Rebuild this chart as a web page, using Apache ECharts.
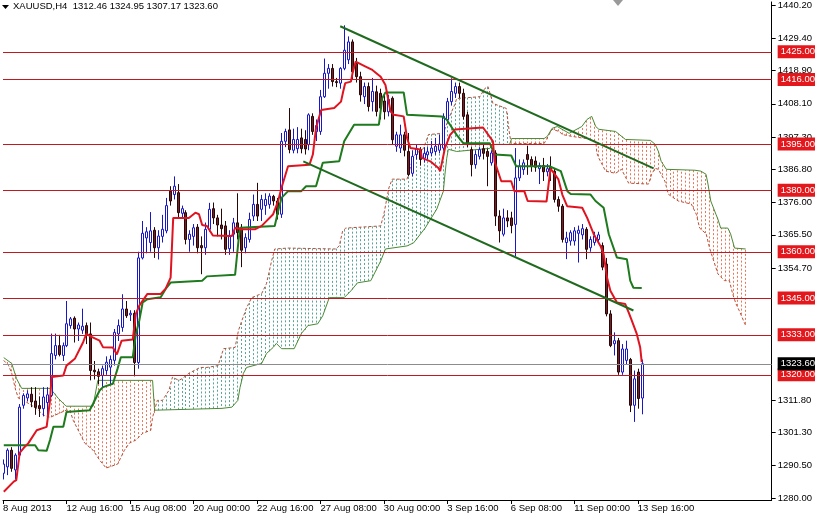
<!DOCTYPE html>
<html><head><meta charset="utf-8">
<script src="https://cdn.jsdelivr.net/npm/echarts@6/dist/echarts.min.js"></script>
<style>html,body{margin:0;padding:0;background:#fff}#c{width:815px;height:517px}</style>
</head><body><div id="c"></div><script>
// ---- candle data (bar index = array position) ----
const opens = [1288,1290.1,1295.5,1289.1,1293.9,1310.1,1312.5,1313.7,1311.5,1310,1309,1311,1313.3,1326.3,1329.5,1326.3,1329.5,1336,1338.4,1334.9,
1334.5,1336,1333.3,1321.5,1321,1319.8,1321.4,1322.5,1324.7,1333.3,1335.4,1341.4,1339.5,1340,1324,1358,1364.5,1363,1367,1361.3,
1365,1366.8,1379.7,1378.6,1379.2,1372.5,1372.7,1364,1365,1368,1362,1361.3,1367.3,1374,1371,1368.7,1368.4,1361,1365.7,1369.4,
1367.5,1361.3,1364,1371.6,1375.4,1373.8,1375,1375.4,1378,1376.5,1372.2,1395.9,1399.6,1393,1393.5,1397,1396.5,1394.8,1404,1399,
1399.1,1410.4,1418,1419.6,1415.3,1414.8,1419.6,1422.4,1428.2,1421.2,1416.9,1410.4,1413.7,1408.8,1412,1411.5,1409,1405.5,1409.9,1394.3,
1393.7,1398,1392.6,1385.5,1391.6,1393.2,1390.4,1391.5,1392.1,1392.6,1393,1393.7,1402.9,1408.8,1411.5,1413.7,1411.5,1404.5,1393.2,1388.3,
1391,1393.5,1392.6,1388.9,1392.1,1371.6,1365.7,1371,1371,1368.9,1384,1386.7,1391.6,1390,1389.5,1387,1388,1386,1387.5,1386.2,
1377,1374.8,1363,1363.5,1363.5,1366,1365.5,1367.3,1361.3,1363,1364,1362,1356,1339.8,1330.1,1331.1,1320.9,1324.7,1325,1310.1,
1320.9,1312.46];
const highs = [1292.5,1296.1,1296.5,1294.5,1310.5,1314,1315,1316,1316,1313,1316,1316,1333.4,1333.4,1333,1330.5,1344,1338.8,1339,1337,
1341.5,1337,1337,1324.5,1322,1323,1326,1326.3,1334.9,1338,1346.2,1344,1341,1341,1360,1370,1368,1372.9,1368,1367,
1372,1377.5,1381.3,1384.5,1382,1375,1373.5,1367,1369,1369,1365,1369.5,1375.9,1376,1372,1374,1370,1367,1371,1379,
1369,1366,1372.7,1378.6,1382.4,1378.5,1379,1379,1378.5,1377.5,1398.6,1400,1406.7,1400,1400.5,1400,1399.5,1405,1405,1403,
1412.6,1422.8,1421,1421,1416.5,1420,1433.6,1430,1429,1423,1418.5,1415,1415,1416.5,1414,1413,1411,1411,1410.5,1399,
1401.3,1399,1398.6,1393,1395,1394,1394,1394,1396,1397,1398,1405,1410,1416.4,1415,1415,1413,1405.5,1394,1393,
1394,1395,1393.5,1393,1393,1373.5,1374,1373.5,1373,1393.7,1390,1390,1394.5,1391,1391,1389,1390.5,1388.5,1391,1387,
1378,1375.5,1366.5,1367,1368,1368.5,1369,1368,1365,1366.5,1366.5,1363,1358,1341,1333.8,1332,1330,1331.1,1325.5,1321.4,
1322,1324.95];
const lows = [1286,1287.4,1288.5,1286,1293,1309,1311.5,1309.5,1307,1306.3,1306.5,1307,1312.8,1325,1326,1324.5,1329,1335,1330.5,1331,
1333.3,1330,1318.2,1318.5,1317,1316,1320,1317,1323,1331,1334,1338.5,1337.5,1319.5,1322,1357.5,1359.5,1360,1358,1357.5,
1363,1366,1375,1377,1371,1371,1362.4,1360,1362,1359.5,1352.7,1359,1366.5,1369,1365,1364,1359,1359,1360,1364,
1355,1359.5,1363,1370,1370,1370,1372,1374,1375,1370.5,1371,1394,1392,1392,1392,1392,1391.6,1393,1398,1396,
1398,1410,1413,1413.7,1413.5,1413,1419,1421,1415.9,1415,1408.8,1408,1405.6,1405.6,1404,1403,1403,1404,1394.8,1392.5,
1392.1,1391,1384.5,1384.5,1390,1388,1389,1390,1391,1391.5,1392,1393,1402,1407.5,1410,1410,1403,1394,1384.5,1387,
1390,1390,1381.3,1388,1368.4,1363,1365,1368,1366,1358.6,1383,1385,1385,1386,1386,1382,1383,1384.5,1383,1376,
1373,1363,1357.6,1362,1362,1356.5,1364,1357.6,1360,1362,1363,1354,1339,1329,1326.3,1320,1320,1323.5,1307.9,1304.7,
1309,1307.17];
const closes = [1291,1295.5,1289.6,1293.9,1309.5,1313.3,1313.8,1311.2,1309.4,1309,1312.8,1313.5,1326.9,1329.5,1326.6,1329.5,1336.6,1338.2,1334.9,1336.2,
1335.8,1332.8,1321.4,1321,1319.5,1322,1324.1,1325,1333.8,1336,1341.4,1339.2,1340,1324,1358,1366,1366.5,1366.8,1361.3,1365.1,
1367.3,1375,1376.5,1381.3,1372.7,1374,1364,1365.7,1367.8,1361.3,1361.3,1367.3,1373.8,1371,1368.7,1367.5,1360.8,1365,1369.4,1366.2,
1360.5,1364.6,1370.5,1375.4,1371.6,1377,1377,1378.1,1376.5,1372.2,1395.9,1399.1,1393.2,1396.5,1396.5,1393.5,1393.4,1404.5,1399.1,1401,
1410.4,1418,1419.6,1415.3,1415,1419.6,1425.5,1428.2,1418.5,1416.9,1411,1413.7,1407.2,1412.1,1405.6,1406.7,1405.5,1409.5,1396.4,1398,
1398,1393,1385.1,1391,1393.6,1390,1392,1392.5,1393.7,1394.3,1395,1404,1408.8,1412.1,1413.7,1411.5,1404,1394.8,1388.3,1391.6,
1393.2,1392,1391,1392.1,1371.6,1366.8,1371,1370,1368.5,1384,1387.8,1388.9,1390,1387.8,1387.5,1388,1386,1387,1386.5,1377,
1374.8,1364,1364.5,1366.2,1366.8,1367,1367.5,1360.8,1364,1365.1,1365.5,1355,1339.8,1329.5,1331.1,1320.9,1328.4,1328.4,1310.1,1318.7,
1312.3,1323.6];

// ---- indicator lines, [bar, price] ----
const tenkan = [[0.2,1282.0],[2.7,1285.3],[3.35,1285.8],[4.2,1294.6],[5.2,1296.2],[6.4,1297.8],[8.5,1302.0],[11,1303.1],[11.85,1311.7],[12.25,1319.3],
[15.2,1319.8],[16,1323.0],[18.1,1325.2],[20.2,1330.6],[21,1333.3],[22.2,1332.4],[24.35,1331.1],[25.2,1329.0],[27.7,1328.9],[28.7,1326.6],
[29.9,1331.1],[32.7,1331.5],[33.5,1339.8],[34.35,1342.5],[36.4,1346.3],[39.75,1346.3],[41,1348.0],[42.25,1351.6],[42.9,1371.0],[46.85,1371.0],
[48.5,1372.7],[49.4,1372.2],[50.2,1368.7],[51.4,1368.4],[52.9,1365.3],[57.7,1365.1],[58.5,1367.8],[60.2,1367.3],[63.5,1367.3],[65.2,1368.4],
[68.1,1372.2],[69.35,1376.5],[70.2,1380.8],[71.85,1387.8],[77.25,1388.3],[78.1,1391.6],[78.9,1400.2],[80.2,1406.1],[83.5,1406.7],[85.2,1408.8],
[85.75,1412.1],[86.25,1414.8],[87.7,1415.3],[88.1,1418.0],[88.9,1421.8],[91.4,1420.2],[93.1,1419.1],[95.2,1416.9],[96.4,1414.2],[97.7,1405.6],
[98.5,1404.5],[101,1404.0],[101.85,1396.9],[102.7,1393.7],[105.2,1393.2],[105.6,1390.5],[107.7,1389.4],[109.75,1387.2],[110.2,1386.2],[111.4,1393.7],
[112.7,1398.0],[113.9,1399.7],[121,1400.4],[123.5,1395.9],[123.9,1389.4],[125.6,1382.9],[128.1,1382.9],[128.9,1379.7],[131.4,1379.7],[132.25,1376.5],
[137,1376.3],[138,1387.0],[139,1385.3],[140,1383.5],[141,1378.5],[142.2,1374.8],[146,1374.3],[147.25,1371.0],[148.9,1365.7],[150.6,1361.9],
[151.4,1359.2],[152.25,1351.6],[153.1,1347.3],[154.75,1343.5],[156.85,1343.0],[157.7,1340.3],[158.5,1337.6],[159.75,1333.3],[160.6,1329.0],[161,1324.1]];
const kijun = [[0.2,1297.1],[8.1,1297.1],[8.9,1295.5],[11,1295.3],[11.85,1298.8],[12.7,1303.1],[15.2,1303.1],[16,1307.9],[21.85,1308.5],[22.7,1310.6],
[24.35,1314.9],[25.2,1316.0],[27.7,1317.1],[28.9,1322.1],[29.7,1325.7],[32.7,1325.7],[33.5,1333.3],[34.35,1337.6],[35.2,1343.5],[36.4,1344.6],
[39.75,1345.2],[41,1347.9],[42.25,1350.0],[50.2,1350.6],[51.4,1352.0],[58.5,1352.5],[59.35,1363.5],[59.75,1367.8],[68.5,1368.4],[69.3,1373],
[70.2,1377.5],[71.85,1379.7],[75.2,1379.7],[76.4,1381.3],[78.9,1381.3],[79.75,1385.1],[80.6,1388.9],[84.75,1389.4],[86,1395.9],[88.5,1401.3],
[94.75,1401.3],[95.6,1409.9],[96.4,1411.8],[101,1411.8],[101.85,1404.5],[110.6,1404.0],[111.85,1402.9],[114.35,1398.0],[116,1395.3],[122.7,1395.3],
[123.9,1391.6],[128.1,1391.3],[129.35,1387.8],[137.7,1387.8],[140.6,1386.2],[142.25,1379.7],[143.1,1378.8],[148.1,1378.6],[149.35,1376.5],[151.4,1374.3],
[152.7,1365.7],[154.75,1358.1],[157.25,1357.6],[158.1,1350.6],[158.9,1348.3],[161,1348.2]];
const spanA = [[0.18,1324.7],[1.4,1323.0],[2.2,1320.5],[3.2,1315.0],[3.9,1312.4],[5.2,1311.7],[8.4,1309.1],[10.2,1306.9],[11.9,1306.2],[15.9,1308.5],
[16.85,1308.5],[17.7,1305.2],[19.35,1301.0],[20.6,1297.8],[22.7,1295.5],[24.35,1292.3],[26,1289.7],[28.9,1291.0],[30.6,1295.5],[31.85,1297.8],
[33.5,1298.8],[35.2,1301.0],[37.25,1302.0],[37.7,1306.2],[38.9,1311.7],[40.2,1311.7],[41.85,1315.0],[42.7,1319.2],[44.35,1318.2],[45.2,1318.8],
[46.85,1320.5],[49.7,1322.4],[51.4,1322.4],[54.2,1323.0],[55.6,1328.5],[58.5,1328.9],[59.35,1334.4],[60.2,1337.6],[61.4,1341.8],[62.7,1345.1],
[65.2,1346.4],[66.4,1349.6],[67.7,1357.0],[68.5,1360.9],[71.85,1361.2],[83.9,1360.9],[84.75,1361.9],[85.6,1366.7],[86.4,1367.7],[95.2,1368.4],
[96,1372.2],[97.25,1380.7],[98.1,1383.6],[101.85,1383.6],[103.1,1389.4],[103.9,1391.7],[106,1393.6],[107.25,1398.1],[111,1398.5],[112.25,1403.0],
[113.1,1405.6],[113.9,1407.9],[114.35,1409.8],[120.2,1410.4],[121.4,1413.0],[122.25,1413.7],[123.5,1408.2],[126.85,1406.6],[127.7,1398.1],[128.1,1395.2],
[136.4,1395.2],[138.4,1399.8],[140.2,1399.1],[141,1398.1],[143.4,1397.5],[146.9,1396.8],[149.4,1395.9],[149.7,1392.0],[150.2,1390.4],[151.9,1386.2],
[154.4,1385.5],[155.9,1386.8],[157.7,1382.3],[162.7,1382.0],[163.5,1385.2],[164.35,1387.1],[165.2,1386.8],[166.85,1382.9],[167.7,1378.7],[170.2,1376.5],
[173.5,1375.5],[174.75,1372.2],[175.6,1367.7],[177.25,1365.8],[178.1,1361.2],[178.9,1358.0],[180.2,1352.8],[181.85,1350.6],[183.1,1350.6],[183.9,1346.4],
[184.75,1343.1],[185.6,1340.8],[186.85,1337.0],[187.2,1336.0]];
const spanB = [[0.18,1325.6],[2.2,1323.7],[3.4,1318.8],[4.7,1315.6],[11.9,1315.6],[13.9,1312.4],[15.9,1309.8],[22.7,1309.8],[23.9,1318.2],[37.7,1318.2],
[38.2,1308.5],[55.2,1309.1],[57.7,1309.5],[59.2,1311.7],[59.75,1315.9],[60.6,1320.5],[61.4,1322.4],[65.2,1323.7],[66.4,1326.9],[68.1,1328.9],
[68.9,1330.2],[70.2,1328.5],[73.4,1328.5],[75.2,1333.4],[76.85,1336.0],[79.35,1336.6],[80.6,1339.2],[82.25,1345.1],[86,1345.1],[87.7,1347.3],
[89.35,1349.9],[92.7,1350.6],[95.2,1357.0],[96.4,1360.9],[101.85,1361.9],[103.5,1362.9],[106.4,1367.7],[109.35,1373.9],[111,1379.7],[111.4,1385.2],
[111.85,1390.4],[112.25,1393.3],[114.35,1392.6],[122.7,1393.6],[123.5,1394.9],[127.7,1394.9],[128.2,1396.8],[136.4,1396.8],[137.2,1397.5],[138.4,1400.1],
[139.7,1400.7],[142.7,1398.5],[145.9,1400.7],[147.2,1403.0],[148.4,1404.0],[149.4,1400.7],[150.2,1399.8],[154.4,1399.1],[156.9,1396.5],[163.2,1396.2],
[164.4,1394.9],[165.2,1392.6],[165.9,1389.4],[167.2,1386.8],[174.4,1386.5],[175.9,1386.2],[177.2,1385.2],[177.7,1382.0],[178.4,1376.5],[179.7,1372.2],
[180.2,1370.6],[180.9,1367.7],[182.7,1367.7],[183.4,1365.8],[184.4,1361.2],[187.2,1360.9]];
const trendUpper = [[85,1433.3],[164,1387.1]];
const trendLower = [[75.7,1389.4],[158.9,1340.9]];

// ---- levels and axis labels ----
const hLevels = [1425, 1416, 1395, 1380, 1360, 1345, 1333, 1320];
const lastPrice = 1323.6;
const yTickValues = [1440.2,1429.4,1418.9,1408.1,1397.3,1386.8,1376.0,1365.5,1354.7,1311.8,1301.3,1290.5,1280.0];
const xTickBars = [0,16,32,48,64,80,96,112,128,144,160];
const xTickLabels = ['8 Aug 2013','12 Aug 16:00','15 Aug 08:00','20 Aug 00:00','22 Aug 16:00','27 Aug 08:00','30 Aug 00:00','3 Sep 16:00','6 Sep 08:00','11 Sep 00:00','13 Sep 16:00'];
const symbolName = 'XAUUSD,H4';

const FONT = 'Liberation Sans, Arial, sans-serif';
const FS = 9.5;
const candleRows = opens.map((o, i) => [i, o, highs[i], lows[i], closes[i]]);

function valueAt(pts, b) {
  if (b < pts[0][0] || b > pts[pts.length - 1][0]) return null;
  for (let k = 1; k < pts.length; k++) {
    if (b <= pts[k][0]) {
      const p0 = pts[k - 1], p1 = pts[k];
      const t = (b - p0[0]) / (p1[0] - p0[0] || 1);
      return p0[1] + t * (p1[1] - p0[1]);
    }
  }
  return pts[pts.length - 1][1];
}

const chart = echarts.init(document.getElementById('c'), null, {renderer: 'canvas'});
const last = opens.length - 1;

const option = {
  animation: false,
  backgroundColor: '#ffffff',
  grid: {left: 0, right: 40, top: 0, bottom: 17, containLabel: false},
  graphic: [
    {type: 'polygon', shape: {points: [[2, 5], [9, 5], [5.5, 9]]}, style: {fill: '#000'}},
    {type: 'text', left: 13, top: 1, style: {
      text: symbolName + '  ' + [opens[last], highs[last], lows[last], closes[last]].map(v => v.toFixed(2)).join(' '),
      font: FS + 'px ' + FONT, fill: '#000'}},
    {type: 'polygon', shape: {points: [[613, 0], [623, 0], [618, 6]]}, style: {fill: '#9a9a9a'}}
  ],
  xAxis: {
    type: 'value', min: 0, max: 193.75,
    axisLine: {show: true, onZero: false, lineStyle: {color: '#000', width: 1}},
    axisTick: {show: true, customValues: xTickBars, length: 4, lineStyle: {color: '#000'}},
    axisLabel: {show: true, customValues: xTickBars, showMinLabel: true, showMaxLabel: true,
      formatter: v => { const k = xTickBars.indexOf(Math.round(v)); return k >= 0 ? xTickLabels[k] : ''; },
      align: 'left', color: '#000', fontSize: FS, fontFamily: FONT, margin: 3},
    splitLine: {show: false}
  },
  yAxis: {
    type: 'value', position: 'right', min: 1279.32, max: 1441.19, scale: true,
    axisLine: {show: true, onZero: false, lineStyle: {color: '#000', width: 1}},
    axisTick: {show: true, customValues: yTickValues, length: 4, lineStyle: {color: '#000'}},
    axisLabel: {show: true, customValues: yTickValues, showMinLabel: true, showMaxLabel: true,
      formatter: v => v.toFixed(2), color: '#000', fontSize: FS, fontFamily: FONT, margin: 6},
    splitLine: {show: false}
  },
  series: [
    { // Ichimoku cloud (hatched area between Senkou spans)
      type: 'custom', z: 1, silent: true, clip: true,
      data: [[0, 1300]],
      renderItem: function (params, api) {
        const children = [];
        const maxBar = Math.max(spanA[spanA.length - 1][0], spanB[spanB.length - 1][0]);
        for (let b = 0; b <= Math.floor(maxBar); b++) {
          const a = valueAt(spanA, b), s = valueAt(spanB, b);
          if (a == null || s == null) continue;
          const pa = api.coord([b, a]), pb = api.coord([b, s]);
          const x = Math.round(pa[0]) + 0.5;
          children.push({type: 'line', shape: {x1: x, y1: pa[1], x2: x, y2: pb[1]},
            style: {stroke: a >= s ? '#5aa596' : '#e8775a', lineWidth: 1, lineDash: [2, 2]}});
        }
        children.push({type: 'polyline', shape: {points: spanA.map(p => api.coord(p))},
          style: {stroke: '#b5503a', lineWidth: 1, lineDash: [3, 2], fill: null}});
        children.push({type: 'polyline', shape: {points: spanB.map(p => api.coord(p))},
          style: {stroke: '#4a8a34', lineWidth: 1, fill: null}});
        return {type: 'group', children: children};
      }
    },
    { // horizontal levels
      type: 'line', z: 2, data: [], silent: true,
      markLine: {
        symbol: ['none', 'none'], silent: true, animation: false,
        lineStyle: {type: 'solid', width: 1, color: '#bf1a22'},
        label: {show: true, position: 'end', distance: 6, formatter: p => p.value.toFixed(2),
          color: '#fff', backgroundColor: '#e4181c', padding: [2, 3, 1, 3], fontSize: FS, fontFamily: FONT},
        data: hLevels.map(v => ({yAxis: v})).concat([{yAxis: lastPrice,
          lineStyle: {color: '#8c8c8c', width: 1, type: 'solid'},
          label: {backgroundColor: '#000', color: '#fff'}}])
      }
    },
    { // candles
      type: 'custom', z: 3, silent: true, clip: true,
      data: candleRows,
      encode: {x: 0, y: [1, 2, 3, 4]},
      renderItem: function (params, api) {
        const i = api.value(0), o = api.value(1), h = api.value(2), l = api.value(3), c = api.value(4);
        const po = api.coord([i, o]), ph = api.coord([i, h]), pl = api.coord([i, l]), pc = api.coord([i, c]);
        const x = Math.round(po[0]) + 0.5;
        const bull = c >= o;
        const stroke = bull ? '#1818c8' : '#2a0606';
        const fill = bull ? '#ffffff' : '#74222a';
        const top = Math.min(po[1], pc[1]);
        const hgt = Math.max(1, Math.abs(po[1] - pc[1]));
        return {type: 'group', children: [
          {type: 'line', shape: {x1: x, y1: ph[1], x2: x, y2: pl[1]}, style: {stroke: stroke, lineWidth: 1}},
          {type: 'rect', shape: {x: x - 1, y: top, width: 2, height: hgt}, style: {fill: fill, stroke: stroke, lineWidth: 1}}
        ]};
      }
    },
    {type: 'line', name: 'Kijun', z: 4, data: kijun, showSymbol: false, silent: true, lineStyle: {color: '#1d7a1d', width: 2}},
    {type: 'line', name: 'Tenkan', z: 5, data: tenkan, showSymbol: false, silent: true, lineStyle: {color: '#e01420', width: 2}},
    {type: 'line', z: 6, data: trendUpper, showSymbol: false, silent: true, lineStyle: {color: '#1f6a1f', width: 2}},
    {type: 'line', z: 6, data: trendLower, showSymbol: false, silent: true, lineStyle: {color: '#1f6a1f', width: 2}}
  ]
};
chart.setOption(option);
</script></body></html>
